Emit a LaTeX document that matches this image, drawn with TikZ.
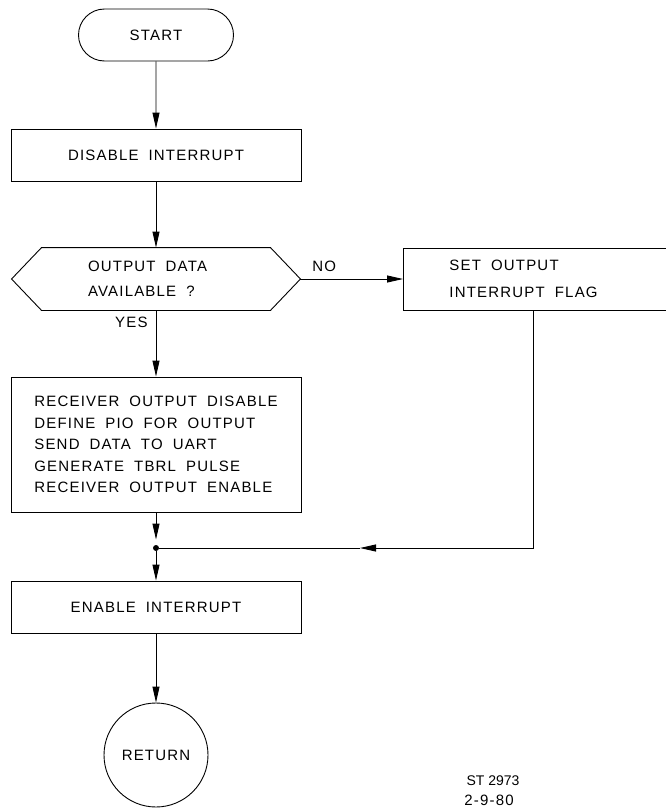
\documentclass[tikz,border=0pt]{standalone}
\usepackage{fontspec}
\newfontfamily\lf[LetterSpace=8]{Liberation Sans}
\newfontfamily\pf{Liberation Sans}
\newcommand\widewordsp{\spaceskip=10pt plus 1pt\relax}
\newcommand\normwordsp{\spaceskip=0pt\relax}
\usetikzlibrary{arrows.meta,shapes.misc,calc}
\begin{document}
\begin{tikzpicture}[x=1pt,y=-1pt,
  line width=0.9pt,
  every node/.style={font=\lf\fontsize{15}{18}\selectfont\widewordsp, execute at begin node=\widewordsp},
  box/.style={draw, rectangle, inner sep=0pt},
  arr/.style={-{Triangle[length=16pt,width=7pt]}},
  lbl/.style={inner sep=0pt}
 ]
\useasboundingbox (0,0) rectangle (665,809);

\node[draw, rounded rectangle, minimum width=155pt, minimum height=52pt, inner sep=0pt] (start) at (156,35) {START};
\node[box, minimum width=290pt, minimum height=52pt] (dis) at (156,155) {DISABLE INTERRUPT};
\node[minimum width=228pt, minimum height=62pt, align=left, text width=136pt, inner sep=0pt] (dec) at (156,279) {OUTPUT DATA\\[7pt]AVAILABLE ?};
\coordinate (decR) at ($(dec.east)+(30,0)$);
\coordinate (decL) at ($(dec.west)+(-30,0)$);
\draw (dec.north west) -- (dec.north east) -- (decR) -- (dec.south east) -- (dec.south west) -- (decL) -- cycle;

\node[box, anchor=west, minimum height=62pt, text width=174pt, inner xsep=46pt, align=left] (set) at (403,279) {SET OUTPUT\\[9pt]INTERRUPT FLAG};

\node[box, minimum width=290pt, minimum height=135pt, align=left] (big) at (156,444.5) {RECEIVER OUTPUT DISABLE\\[3.5pt]DEFINE PIO FOR OUTPUT\\[3.5pt]SEND DATA TO UART\\[3.5pt]GENERATE TBRL PULSE\\[3.5pt]RECEIVER OUTPUT ENABLE};

\node[circle, fill, inner sep=0pt, minimum size=6pt] (dot) at (156,548) {};
\node[box, minimum width=290pt, minimum height=52pt] (en) at (156,607) {ENABLE INTERRUPT};
\node[draw, circle, minimum size=104pt, inner sep=0pt] (ret) at (156,755) {RETURN};

\node[lbl, anchor=east] (yes) at (148,322) {YES};
\node[lbl, anchor=west] (no) at (312,266) {NO};
\node[lbl, font=\pf\fontsize{14}{17}\selectfont\normwordsp, execute at begin node=\normwordsp] (st) at (493,781) {ST 2973};
\node[lbl] (dt) at (489,800) {2-9-80};

\draw[arr] (start) -- (dis);
\draw[arr] (dis) -- (dec.north);
\draw[arr] (dec.south) -- (big.north);
\draw[arr] (decR) -- (set.west);
\draw[arr, shorten >=5pt] (big.south) -- (dot);
\draw[arr] (dot) -- (en.north);
\draw[arr] (en) -- (ret);
\coordinate (ha) at (360,548);
\draw[arr] ([xshift=-3pt]set.south) |- (ha);
\draw (ha) -- (dot);
\end{tikzpicture}
\end{document}
